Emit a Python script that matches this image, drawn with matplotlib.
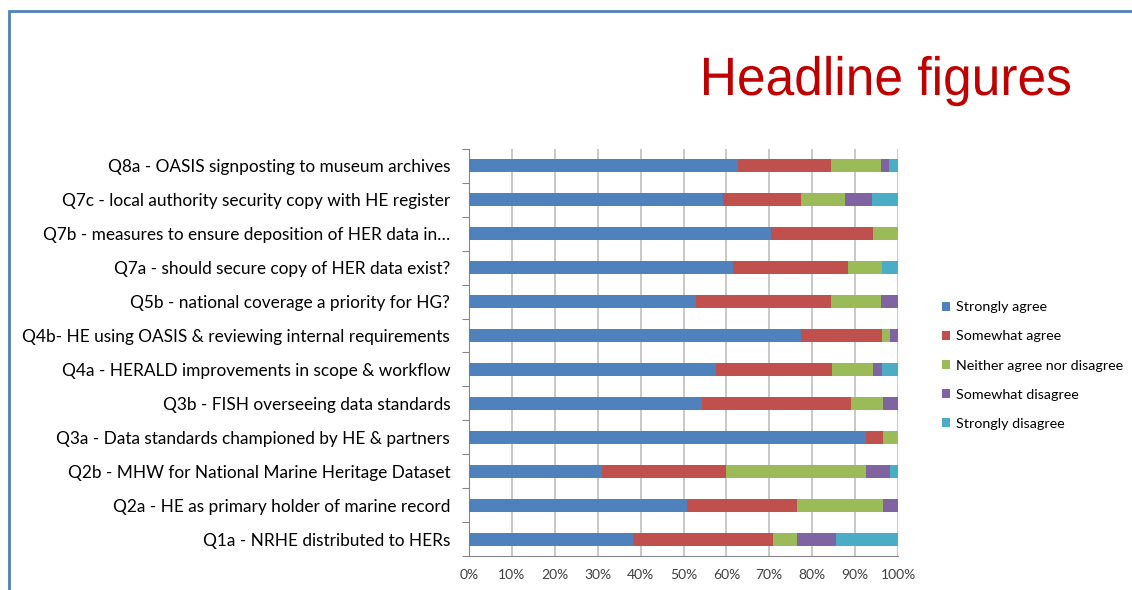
import matplotlib.pyplot as plt
import numpy as np
from matplotlib.font_manager import FontProperties
from matplotlib.patches import PathPatch, Rectangle
from matplotlib.textpath import TextPath
from matplotlib.ticker import FixedLocator, PercentFormatter
from matplotlib.transforms import Affine2D

plt.rcParams["font.family"] = ["Lato", "DejaVu Sans"]

questions = [
    "Q8a - OASIS signposting to museum archives",
    "Q7c - local authority security copy with HE register",
    "Q7b - measures to ensure deposition of HER data in\u2026",
    "Q7a - should secure copy of HER data exist?",
    "Q5b - national coverage a priority for HG?",
    "Q4b- HE using OASIS & reviewing internal requirements",
    "Q4a - HERALD improvements in scope & workflow",
    "Q3b - FISH overseeing data standards",
    "Q3a - Data standards championed by HE & partners",
    "Q2b - MHW for National Marine Heritage Dataset",
    "Q2a - HE as primary holder of marine record",
    "Q1a - NRHE distributed to HERs",
]
responses = [
    "Strongly agree",
    "Somewhat agree",
    "Neither agree nor disagree",
    "Somewhat disagree",
    "Strongly disagree",
]

# percentages, same order as questions (top to bottom)
strongly_agree = [62.6, 59.1, 70.5, 61.6, 52.9, 77.3, 57.6, 54.4, 92.6, 30.9, 50.9, 38.2]
somewhat_agree = [21.7, 18.3, 23.6, 26.8, 31.4, 18.9, 27.0, 34.6, 3.8, 29.0, 25.5, 32.7]
neither = [11.7, 10.2, 5.9, 7.8, 11.7, 1.9, 9.6, 7.4, 3.6, 32.7, 20.0, 5.5]
somewhat_disagree = [2.0, 6.3, 0.0, 0.0, 4.0, 1.9, 2.0, 3.6, 0.0, 5.6, 3.6, 9.1]
strongly_disagree = [2.0, 6.1, 0.0, 3.8, 0.0, 0.0, 3.8, 0.0, 0.0, 1.8, 0.0, 14.5]

colors = ["#4F81BD", "#C0504D", "#9BBB59", "#8064A2", "#4BACC6"]
series = [strongly_agree, somewhat_agree, neither, somewhat_disagree, strongly_disagree]

fig = plt.figure(figsize=(11.32, 5.90), dpi=100)
ax = fig.add_axes([0.4143, 0.0576, 0.3790, 0.6899])

y = np.arange(len(questions))
left = np.zeros(len(questions))
for vals, col, name in zip(series, colors, responses):
    vals = np.array(vals)
    ax.barh(y, vals, left=left, height=0.38, color=col, label=name, zorder=3)
    left += vals

ax.set_xlim(0, 100)
ax.set_ylim(len(questions) - 0.5, -0.5)
ax.xaxis.set_major_locator(FixedLocator(np.arange(0, 101, 10)))
ax.xaxis.set_major_formatter(PercentFormatter(decimals=0))
ax.set_yticks(y)
ax.set_yticklabels(questions, fontsize=12.4)
ax.yaxis.set_minor_locator(FixedLocator(np.arange(-0.5, len(questions), 1)))
ax.tick_params(axis="y", which="major", length=0, pad=13.5)
ax.tick_params(axis="y", which="minor", length=5, color="#868686", width=0.8)
ax.tick_params(axis="x", length=0, labelsize=10, pad=9, colors="#404040")
ax.tick_params(axis="y", colors="black")

ax.grid(axis="x", color="#BFBFBF", linewidth=1.2, zorder=0)
for s in ["top", "right"]:
    ax.spines[s].set_visible(False)
for s in ["left", "bottom"]:
    ax.spines[s].set_color("#868686")
    ax.spines[s].set_linewidth(0.8)

leg = ax.legend(loc="center left", bbox_to_anchor=(1.072, 0.468), frameon=False,
                fontsize=10.3, handlelength=0.6, handleheight=0.6,
                handletextpad=0.4, labelspacing=1.2)

# slide frame
fig.add_artist(Rectangle((9 / 1132, -0.1), 1.2, 1 - 11 / 590 + 0.1,
                         transform=fig.transFigure, fill=False,
                         edgecolor="#4F81BD", linewidth=2))

# condensed title, drawn as a path in pixel coordinates
title_fp = FontProperties(family="Liberation Sans")
tp = TextPath((0, 0), "Headline figures", size=54, prop=title_fp)
bb = tp.get_extents()
sx = 366 / bb.width
tr = Affine2D().translate(-bb.x0, 0).scale(sx, 1).translate(704, 590 - 95)
fig.add_artist(PathPatch(tr.transform_path(tp), transform=None,
                         facecolor="#C00000", edgecolor="none"))

fig.savefig("out.png", dpi=100)
